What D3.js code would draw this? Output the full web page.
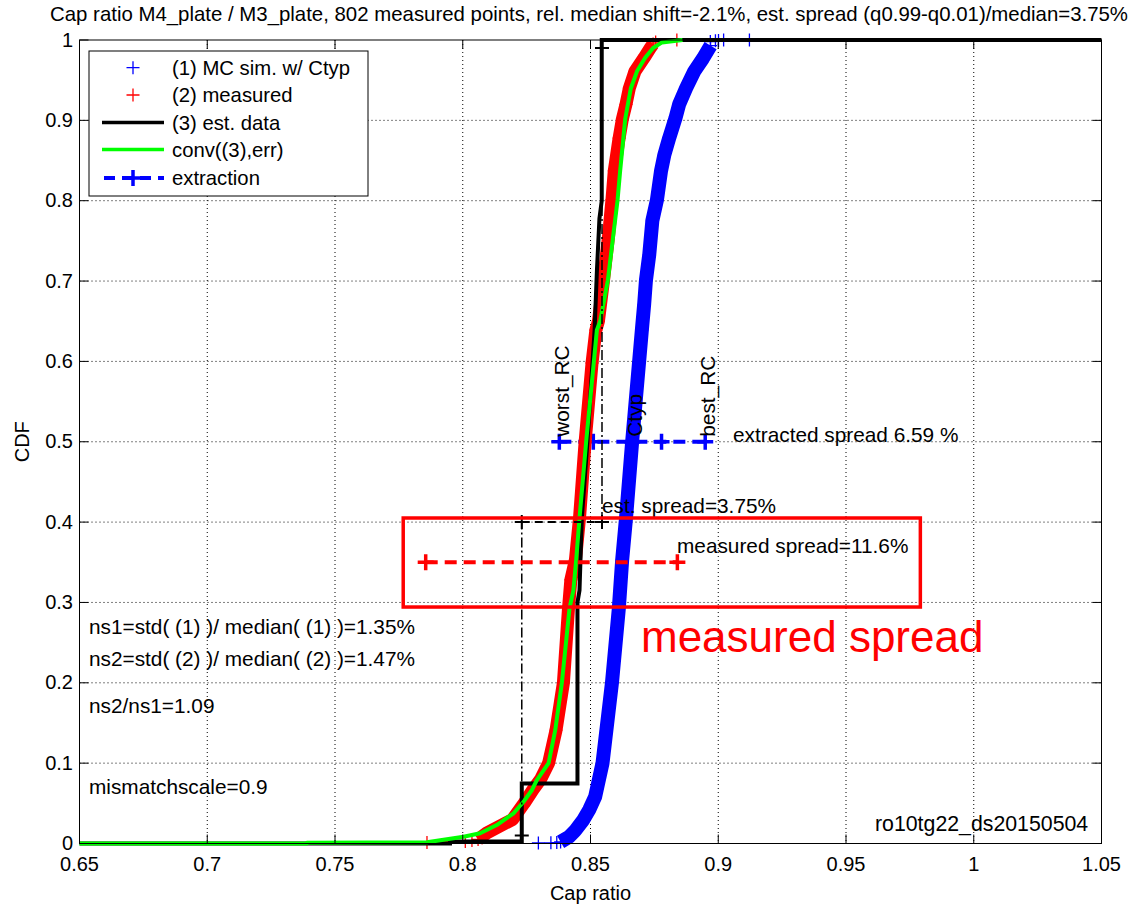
<!DOCTYPE html>
<html><head><meta charset="utf-8">
<script src="https://cdn.jsdelivr.net/npm/d3@7"></script>
<style>
body{margin:0;background:#fff}
text{font-family:"Liberation Sans",Arial,Helvetica,sans-serif;fill:#000}
</style>
</head><body>
<svg id="c" width="1142" height="906"></svg>
<script>
// ---------------- data ----------------
const xTicks = [0.65,0.7,0.75,0.8,0.85,0.9,0.95,1.0,1.05];
const xTickLabels = ["0.65","0.7","0.75","0.8","0.85","0.9","0.95","1","1.05"];
const yTicks = [0,0.1,0.2,0.3,0.4,0.5,0.6,0.7,0.8,0.9,1.0];
const yTickLabels = ["0","0.1","0.2","0.3","0.4","0.5","0.6","0.7","0.8","0.9","1"];

const mcX = [0.8383,0.8415,0.8440,0.8471,0.8495,0.8518,0.8547,0.8584,0.8611,0.8624,0.8639,0.8663,0.8701,0.8710,0.8717,0.8730,0.8742,0.8760,0.8776,0.8789,0.8808,0.8832,0.8847,0.8874,0.8906,0.8940,0.8970];
const mcY = [0.002,0.008,0.016,0.029,0.042,0.058,0.100,0.200,0.293,0.353,0.405,0.500,0.639,0.671,0.701,0.733,0.775,0.801,0.837,0.857,0.878,0.902,0.920,0.940,0.961,0.977,0.993];
const mcTailX = [0.8296,0.8345,0.8368,0.8969,0.8989,0.9001,0.9021,0.9122];
const mcTailY = [0.0006,0.0009,0.0012,0.998,0.999,0.9995,1.0,1.0];

// (2) measured
const measX = [0.8060,0.8094,0.8195,0.8240,0.8275,0.8305,0.8336,0.8365,0.8394,0.8414,0.8423,0.8441,0.8457,0.8479,0.8506,0.8521,0.8531,0.8551,0.8570,0.8584,0.8593,0.8612,0.8625,0.8639,0.8652,0.8674,0.8710,0.8734,0.8745];
const measY = [0.005,0.013,0.030,0.050,0.067,0.080,0.100,0.141,0.200,0.293,0.328,0.353,0.405,0.500,0.598,0.639,0.650,0.701,0.754,0.801,0.837,0.878,0.902,0.920,0.940,0.961,0.978,0.990,0.995];
const measTailX = [0.7860,0.8010,0.8036,0.8755,0.8838];
const measTailY = [0.0012,0.0025,0.0037,0.9975,1.0];
const measFloorX = [0.761,0.806];
const measFloorY = [0.001,0.003];

// (3) est. data
const estX = [0.65,0.795,0.795,0.8231,0.8231,0.8449,0.8449,0.8457,0.8466,0.8488,0.8516,0.8525,0.8535,0.8544,0.8544,1.05];
const estY = [0,0,0.0025,0.0025,0.0747,0.0747,0.300,0.315,0.405,0.500,0.639,0.712,0.778,0.800,1.000,1.000];

// conv((3),err)
const convX = [0.65,0.739,0.739,0.786,0.8003,0.8068,0.8133,0.8199,0.8238,0.8271,0.8290,0.8336,0.8362,0.8388,0.8418,0.8433,0.8444,0.8457,0.8483,0.8525,0.8538,0.8568,0.8588,0.8606,0.8616,0.8636,0.8658,0.8682,0.8714,0.8745,0.8780,0.8860];
const convY = [0,0,0.001,0.0015,0.0085,0.0127,0.023,0.0376,0.052,0.0666,0.079,0.100,0.141,0.200,0.293,0.315,0.353,0.405,0.500,0.639,0.650,0.701,0.754,0.801,0.837,0.902,0.940,0.961,0.978,0.990,0.997,1.000];

// extraction
const extractionX = [0.8378,0.8511,0.8663,0.8778,0.8949];
const extractionLevel = 0.5;
const extractionLabels = ["worst_RC","","Ctyp","","best_RC"];

// est. spread (q0.01 .. q0.99)
const estSpreadX = [0.8231,0.8545];
const estSpreadLevel = 0.4;
const estQuantY = [0.01,0.99];

// measured spread
const measSpreadX = [0.7855,0.8840];
const measSpreadLevel = 0.35;

// highlight box (data coords)
const boxX = [0.7767,0.9791];
const boxY = [0.2943,0.4051];

// ---------------- drawing ----------------
const svg = d3.select("#c");
const L = 79.5, R = 1101.5, T = 40, B = 843.5;
const x = d3.scaleLinear().domain([0.65,1.05]).range([L,R]);
const y = d3.scaleLinear().domain([0,1]).range([B,T]);
const zip = (a,b)=>a.map((v,i)=>[v,b[i]]);
const line = d3.line().x(d=>x(d[0])).y(d=>y(d[1]));
const plus = s => `M${-s},0H${s}M0,${-s}V${s}`;
const AF = 20.8; // annotation font size

// grid
const g = svg.append("g");
g.selectAll(".gx").data(xTicks.slice(1,-1)).enter().append("line")
  .attr("x1",d=>x(d)).attr("x2",d=>x(d)).attr("y1",T).attr("y2",B)
  .attr("stroke","#000").attr("stroke-width",1).attr("stroke-dasharray","1,3");
g.selectAll(".gy").data(yTicks.slice(1,-1)).enter().append("line")
  .attr("y1",d=>y(d)).attr("y2",d=>y(d)).attr("x1",L).attr("x2",R)
  .attr("stroke","#000").attr("stroke-width",1).attr("stroke-dasharray","1,3");

// extraction (dashed blue with + markers)
svg.append("path").attr("d", line(extractionX.map(v=>[v,extractionLevel])))
  .attr("fill","none").attr("stroke","#0000ff").attr("stroke-width",4).attr("stroke-dasharray","12,7");
svg.selectAll(".ex").data(extractionX).enter().append("path")
  .attr("transform",d=>`translate(${x(d)},${y(extractionLevel)})`).attr("d",plus(8))
  .attr("stroke","#0000ff").attr("stroke-width",3.5).attr("fill","none");

// (1) MC band
svg.append("path").attr("d",line(zip(mcX,mcY))).attr("fill","none")
  .attr("stroke","#0000ff").attr("stroke-width",14).attr("stroke-linejoin","round");
svg.selectAll(".mcm").data(zip(mcX,mcY).concat(zip(mcTailX,mcTailY))).enter().append("path")
  .attr("transform",d=>`translate(${x(d[0])},${y(d[1])})`).attr("d",plus(6.5))
  .attr("stroke","#0000ff").attr("stroke-width",1.3).attr("fill","none");

// (2) measured band
svg.append("path").attr("d",line(zip(measFloorX,measFloorY))).attr("fill","none")
  .attr("stroke","#ff0000").attr("stroke-width",1.2);
svg.append("path").attr("d",line(zip(measX,measY))).attr("fill","none")
  .attr("stroke","#ff0000").attr("stroke-width",13).attr("stroke-linejoin","round");
svg.selectAll(".mm").data(zip(measX,measY).concat(zip(measTailX,measTailY))).enter().append("path")
  .attr("transform",d=>`translate(${x(d[0])},${y(d[1])})`).attr("d",plus(6.5))
  .attr("stroke","#ff0000").attr("stroke-width",1.3).attr("fill","none");

// (3) est data
svg.append("path").attr("d",line(zip(estX,estY))).attr("fill","none")
  .attr("stroke","#000").attr("stroke-width",4).attr("stroke-linejoin","miter");

// conv
svg.append("path").attr("d",line(zip(convX,convY))).attr("fill","none")
  .attr("stroke","#00ff00").attr("stroke-width",4).attr("stroke-linejoin","round");

// est spread: dash-dot verticals, dashed horizontal, markers
svg.append("line").attr("x1",x(estSpreadX[0])).attr("x2",x(estSpreadX[0]))
  .attr("y1",y(estQuantY[0])).attr("y2",y(estSpreadLevel))
  .attr("stroke","#000").attr("stroke-width",1.5).attr("stroke-dasharray","10,3,2,3");
svg.append("line").attr("x1",x(estSpreadX[1])).attr("x2",x(estSpreadX[1]))
  .attr("y1",y(estSpreadLevel)).attr("y2",y(estQuantY[1]))
  .attr("stroke","#000").attr("stroke-width",1.5).attr("stroke-dasharray","10,3,2,3");
svg.append("path").attr("d",line(estSpreadX.map(v=>[v,estSpreadLevel])))
  .attr("fill","none").attr("stroke","#000").attr("stroke-width",2).attr("stroke-dasharray","8,5");
svg.selectAll(".esm").data(zip(estSpreadX,[estSpreadLevel,estSpreadLevel]).concat(zip(estSpreadX,estQuantY))).enter().append("path")
  .attr("transform",d=>`translate(${x(d[0])},${y(d[1])})`).attr("d",plus(7))
  .attr("stroke","#000").attr("stroke-width",2).attr("fill","none");

// measured spread (red dashed)
svg.append("path").attr("d",line(measSpreadX.map(v=>[v,measSpreadLevel])))
  .attr("fill","none").attr("stroke","#ff0000").attr("stroke-width",4).attr("stroke-dasharray","12,7");
svg.selectAll(".msm").data(measSpreadX).enter().append("path")
  .attr("transform",d=>`translate(${x(d)},${y(measSpreadLevel)})`).attr("d",plus(8))
  .attr("stroke","#ff0000").attr("stroke-width",3.5).attr("fill","none");

// extraction labels (rotated)
extractionX.forEach((v,i)=>{
  if(!extractionLabels[i]) return;
  svg.append("text").attr("transform",`translate(${x(v)+10},${y(extractionLevel)-5}) rotate(-90)`)
    .attr("font-size",AF).text(extractionLabels[i]);
});

// annotation texts
const ann = (tx,ty,s,opt={})=>{
  const t = svg.append("text").attr("x",tx).attr("y",ty).attr("font-size",opt.size||AF).text(s);
  if(opt.fill) t.style("fill",opt.fill);
  if(opt.anchor) t.attr("text-anchor",opt.anchor);
  return t;
};
ann(733, 442, "extracted spread 6.59 %");
ann(602, 512.5, "est. spread=3.75%");
ann(677, 553, "measured spread=11.6%");
ann(89, 634, "ns1=std( (1) )/ median( (1) )=1.35%");
ann(89, 665.5, "ns2=std( (2) )/ median( (2) )=1.47%");
ann(89, 713, "ns2/ns1=1.09");
ann(89, 794, "mismatchscale=0.9");
ann(875, 831, "ro10tg22_ds20150504", {size:21.3});

// highlight box + big label
svg.append("rect").attr("x",x(boxX[0])).attr("y",y(boxY[1]))
  .attr("width",x(boxX[1])-x(boxX[0])).attr("height",y(boxY[0])-y(boxY[1]))
  .attr("fill","none").attr("stroke","#ff0000").attr("stroke-width",3.5);
ann(641, 652, "measured spread",{size:44, fill:"#ff0000"});

// axes box and ticks
svg.append("rect").attr("x",L).attr("y",T).attr("width",R-L).attr("height",B-T)
  .attr("fill","none").attr("stroke","#000").attr("stroke-width",1);
const tk = svg.append("g").attr("stroke","#000").attr("stroke-width",1);
xTicks.forEach(v=>{
  tk.append("line").attr("x1",x(v)).attr("x2",x(v)).attr("y1",B).attr("y2",B-9);
  tk.append("line").attr("x1",x(v)).attr("x2",x(v)).attr("y1",T).attr("y2",T+9);
});
yTicks.forEach(v=>{
  tk.append("line").attr("y1",y(v)).attr("y2",y(v)).attr("x1",L).attr("x2",L+9);
  tk.append("line").attr("y1",y(v)).attr("y2",y(v)).attr("x1",R).attr("x2",R-9);
});
svg.selectAll(".xl").data(xTicks).enter().append("text")
  .attr("x",d=>x(d)).attr("y",871).attr("text-anchor","middle").attr("font-size",20)
  .text((d,i)=>xTickLabels[i]);
svg.selectAll(".yl").data(yTicks).enter().append("text")
  .attr("x",73).attr("y",d=>y(d)+6.5).attr("text-anchor","end").attr("font-size",20)
  .text((d,i)=>yTickLabels[i]);

svg.append("text").attr("x",(L+R)/2).attr("y",900).attr("text-anchor","middle").attr("font-size",20).text("Cap ratio");
svg.append("text").attr("transform",`translate(29,${(T+B)/2}) rotate(-90)`).attr("text-anchor","middle").attr("font-size",20).text("CDF");
svg.append("text").attr("x",589).attr("y",21).attr("text-anchor","middle").attr("font-size",20.4)
  .text("Cap ratio M4_plate / M3_plate, 802 measured points, rel. median shift=-2.1%, est. spread (q0.99-q0.01)/median=3.75%");

// legend
const lg = svg.append("g");
lg.append("rect").attr("x",89).attr("y",51).attr("width",279).attr("height",145)
  .attr("fill","#fff").attr("stroke","#000").attr("stroke-width",1);
const items = [
  {label:"(1) MC sim. w/ Ctyp", type:"marker", color:"#0000ff"},
  {label:"(2) measured", type:"marker", color:"#ff0000"},
  {label:"(3) est. data", type:"line", color:"#000"},
  {label:"conv((3),err)", type:"line", color:"#00ff00"},
  {label:"extraction", type:"dash", color:"#0000ff"}
];
const rowY = [67.7,95,122.5,149.5,178];
items.forEach((it,i)=>{
  const yy = rowY[i];
  if(it.type==="marker"){
    lg.append("path").attr("transform",`translate(133,${yy})`).attr("d",plus(6.5))
      .attr("stroke",it.color).attr("stroke-width",1.3).attr("fill","none");
  } else if(it.type==="line"){
    lg.append("line").attr("x1",102).attr("x2",164).attr("y1",yy).attr("y2",yy)
      .attr("stroke",it.color).attr("stroke-width",3.5);
  } else {
    lg.append("line").attr("x1",104).attr("x2",164).attr("y1",yy).attr("y2",yy)
      .attr("stroke",it.color).attr("stroke-width",4).attr("stroke-dasharray","11,7");
    lg.append("path").attr("transform",`translate(133,${yy})`).attr("d",plus(8))
      .attr("stroke",it.color).attr("stroke-width",3.5).attr("fill","none");
  }
  lg.append("text").attr("x",172).attr("y",yy+7).attr("font-size",20.3).text(it.label);
});
</script>
</body></html>
